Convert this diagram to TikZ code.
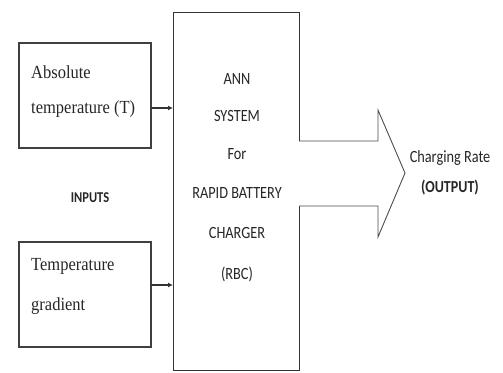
\documentclass[tikz,border=0pt]{standalone}
\usepackage{fontspec}
\setmainfont{Liberation Serif}
\newfontfamily\calib{Carlito}
\usetikzlibrary{arrows.meta}
\newcommand{\tallt}[1]{\scalebox{1}[1.2]{#1}}
\newcommand{\tallserif}[1]{\scalebox{1}[1.12]{#1}}
\begin{document}
\begin{tikzpicture}[x=1pt,y=-1pt,
  blk/.style={draw=black!75,line width=1.1pt},
  serif/.style={font=\fontsize{16.5}{16.5}\selectfont,text=black!85,anchor=base west,inner sep=0pt},
  cal/.style={font=\calib\fontsize{14.3}{14.3}\selectfont,text=black!85,inner sep=0pt},
  conn/.style={draw=black!80,line width=1.1pt,-{Latex[length=5pt,width=5pt]}}]
\useasboundingbox (0,0) rectangle (503,372);
\draw[blk] (19,43) rectangle (151,148);
\draw[blk] (19,242) rectangle (151,347);
\draw[draw=black!80,line width=0.9pt] (173,12) rectangle (299,370);
\node[serif] (t1) at (31,78) {\tallserif{Absolute}};
\node[serif] (t2) at (31,113) {\tallserif{temperature (T)}};
\node[serif] (t3) at (31,270) {\tallserif{Temperature}};
\node[serif] (t4) at (31,310) {\tallserif{gradient}};
\coordinate (a1) at (151,108);
\coordinate (b1) at (173,108);
\coordinate (a2) at (151,285);
\coordinate (b2) at (173,285);
\draw[conn] (a1) -- (b1);
\draw[conn] (a2) -- (b2);
\node[cal,font=\calib\bfseries\fontsize{12.5}{12.5}\selectfont] (inp) at (90,198) {\tallt{INPUTS}};
\node[cal] (n1) at (237,79) {\tallt{ANN}};
\node[cal] (n2) at (237,116) {\tallt{SYSTEM}};
\node[cal] (n3) at (237,154) {\tallt{For}};
\node[cal] (n4) at (237,193) {\tallt{RAPID BATTERY}};
\node[cal] (n5) at (237,233) {\tallt{CHARGER}};
\node[cal] (n6) at (237,274) {\tallt{(RBC)}};
\draw[draw=black!70,line width=0.9pt,fill=white] (299,141) -- (378,141) -- (378,110) -- (405,173) -- (378,237) -- (378,206) -- (299,206);
\node[cal] (o1) at (450,158) {\tallt{Charging Rate}};
\node[cal,font=\calib\bfseries\fontsize{14}{14}\selectfont] (o2) at (450,188) {\tallt{(OUTPUT)}};
\end{tikzpicture}
\end{document}
